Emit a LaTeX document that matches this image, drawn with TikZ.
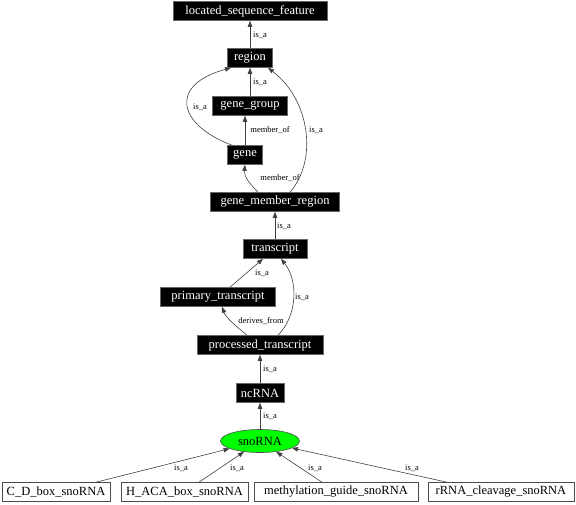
\documentclass[tikz,border=0pt]{standalone}
\usepackage{fontspec}
\setmainfont{Liberation Serif}
\usetikzlibrary{arrows.meta,shapes.geometric}
\begin{document}
\begin{tikzpicture}[x=1pt,y=-1pt,
  term/.style={fill=black,text=white,draw=black!60,line width=0.6pt,inner sep=0pt,minimum height=19pt,font=\fontsize{12.5}{12.5}\selectfont},
  leaf/.style={fill=white,text=black,draw=black!70,line width=0.6pt,inner sep=0pt,minimum height=19pt,font=\fontsize{12.5}{12.5}\selectfont},
  focus/.style={ellipse,fill=green,text=black,draw=black!70,line width=0.6pt,inner sep=0pt,minimum height=23pt,minimum width=79pt,font=\fontsize{12.5}{12.5}\selectfont},
  edge/.style={draw=black!75,line width=0.6pt,-{Triangle[length=6pt,width=4.5pt]}},
  lab/.style={font=\fontsize{8.5}{8.5}\selectfont,inner sep=0pt,text=black}]
\useasboundingbox (0,0) rectangle (576,504);
% nodes
\node[term,minimum width=154pt] (lsf) at (250,11) {located\_sequence\_feature};
\node[term,minimum width=45pt] (region) at (250,58) {region};
\node[term,minimum width=75pt] (gg) at (250,106) {gene\_group};
\node[term,minimum width=35pt] (gene) at (245,155) {gene};
\node[term,minimum width=129pt] (gmr) at (275,202) {gene\_member\_region};
\node[term,minimum width=64pt] (tr) at (275,249) {transcript};
\node[term,minimum width=115pt] (pt) at (218,297) {primary\_transcript};
\node[term,minimum width=126pt] (proc) at (260,345) {processed\_transcript};
\node[term,minimum width=48pt] (nc) at (260,393) {ncRNA};
\node[focus] (sno) at (260,441) {snoRNA};
\node[leaf,minimum width=108pt] (cd) at (56,492) {C\_D\_box\_snoRNA};
\node[leaf,minimum width=127pt] (haca) at (184.5,492) {H\_ACA\_box\_snoRNA};
\node[leaf,minimum width=164pt] (meth) at (336,492) {methylation\_guide\_snoRNA};
\node[leaf,minimum width=146pt] (rrna) at (501,492) {rRNA\_cleavage\_snoRNA};
% edges
\draw[edge] (region) -- (lsf);
\draw[edge] (gg) -- (region);
\draw[edge] (gene.north) -- (gene.north |- gg.south);
\draw[edge] ([xshift=-13pt]gene.north) .. controls (178,125) and (168,85) .. ([xshift=-19pt]region.south);
\draw[edge] ([xshift=-17pt]gmr.north) .. controls (248,182) and (244,176) .. (gene.south);
\draw[edge] ([xshift=15pt]gmr.north) .. controls (318,160) and (310,100) .. ([xshift=18pt]region.south);
\draw[edge] (tr) -- (gmr);
\draw[edge] ([xshift=12pt]pt.north) -- ([xshift=-12pt]tr.south);
\draw[edge] ([xshift=-13pt]proc.north) .. controls (236,326) and (226,318) .. ([xshift=4pt]pt.south);
\draw[edge] ([xshift=18pt]proc.north) .. controls (298,315) and (298,280) .. ([xshift=6pt]tr.south);
\draw[edge] (nc) -- (proc);
\draw[edge] (sno) -- (nc);
\draw[edge] ([xshift=40pt]cd.north) -- (sno);
\draw[edge] ([xshift=14.5pt]haca.north) -- (sno);
\draw[edge] ([xshift=-14pt]meth.north) -- (sno);
\draw[edge] ([xshift=-54pt]rrna.north) -- (sno);
% labels
\node[lab] (l1) at (260,35) {is\_a};
\node[lab] (l2) at (260,82) {is\_a};
\node[lab] (l3) at (270,130) {member\_of};
\node[lab] (l4) at (200,107) {is\_a};
\node[lab] (l5) at (280,178) {member\_of};
\node[lab] (l6) at (316,130) {is\_a};
\node[lab] (l7) at (284,226) {is\_a};
\node[lab] (l8) at (262,273) {is\_a};
\node[lab] (l9) at (261,321) {derives\_from};
\node[lab] (l10) at (302,297) {is\_a};
\node[lab] (l11) at (270,369) {is\_a};
\node[lab] (l12) at (270,416) {is\_a};
\node[lab] (l13) at (181,468) {is\_a};
\node[lab] (l14) at (237,468) {is\_a};
\node[lab] (l15) at (315,468) {is\_a};
\node[lab] (l16) at (412,468) {is\_a};
\end{tikzpicture}
\end{document}
